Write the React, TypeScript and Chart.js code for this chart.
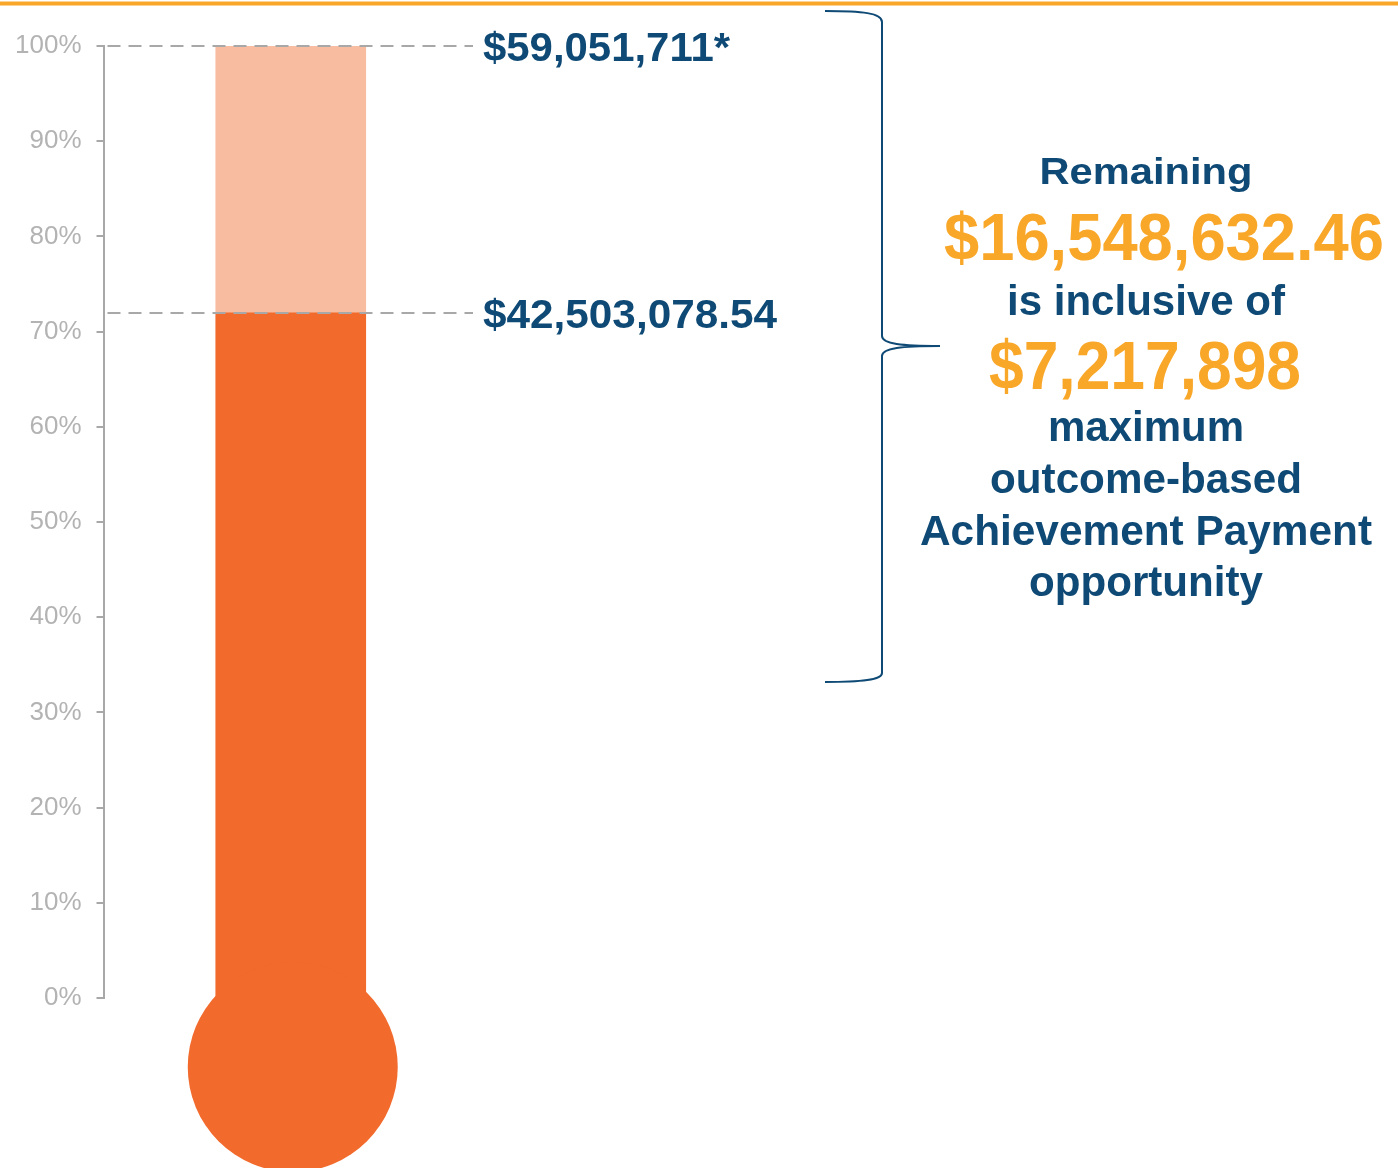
import React, { useEffect, useRef } from "react";
import { Chart, registerables } from "chart.js";

Chart.register(...registerables);

// ---- data ----
const categories = ["Funding"];
const achievedPct = [71.98]; // $42,503,078.54 of $59,051,711
const remainingPct = [28.02];
const yTickValues = [0, 10, 20, 30, 40, 50, 60, 70, 80, 90, 100];
const markerValues = [100, 71.98];
const markerLabels = ["$59,051,711*", "$42,503,078.54"];
const calloutLines = [
  "Remaining",
  "$16,548,632.46",
  "is inclusive of",
  "$7,217,898",
  "maximum",
  "outcome-based",
  "Achievement Payment",
  "opportunity",
];
const calloutIsAmount = [false, true, false, true, false, false, false, false];

// ---- styles ----
const W = 1398;
const H = 1168;
const FONT = "'Liberation Sans', Arial, Helvetica, sans-serif";
const BLUE = "#0E4A75";
const GOLD = "#F9A729";
const DARK_ORANGE = "#F26A2C";
const LIGHT_ORANGE = "#F8BCA1";
const AXIS_GRAY = "#A8A8A8";
const TICK_GRAY = "#B3B3B3";

// layout for callout lines: [centerX, baseline, fontSize, targetWidth]
const calloutLayout: [number, number, number, number][] = [
  [1146, 184, 36, 213],
  [1164, 260, 66, 440],
  [1146, 315, 42, 278],
  [1145, 389, 68, 312],
  [1146, 441, 42, 196],
  [1146, 493, 42, 312],
  [1146, 545, 42, 452],
  [1146, 596, 42, 234],
];
const markerLayout: [number, number, number][] = [
  // baseline, fontSize, targetWidth
  [61, 40, 247],
  [328, 40, 294],
];
const LABEL_X = 483;

function drawFitted(
  ctx: CanvasRenderingContext2D,
  text: string,
  x: number,
  baseline: number,
  size: number,
  color: string,
  targetW: number,
  align: "center" | "left"
) {
  ctx.save();
  ctx.font = `bold ${size}px ${FONT}`;
  ctx.fillStyle = color;
  ctx.textBaseline = "alphabetic";
  const w = ctx.measureText(text).width;
  const sx = targetW / w;
  ctx.translate(x, baseline);
  ctx.scale(sx, 1);
  ctx.textAlign = align;
  ctx.fillText(text, 0, 0);
  ctx.restore();
}

const decorPlugin = {
  id: "decor",
  beforeDraw(chart: any) {
    const ctx = chart.ctx as CanvasRenderingContext2D;
    ctx.save();
    ctx.fillStyle = GOLD;
    ctx.fillRect(0, 1.5, W, 4);
    ctx.restore();
  },
  afterDatasetsDraw(chart: any) {
    const ctx = chart.ctx as CanvasRenderingContext2D;
    const y = chart.scales.y;
    const area = chart.chartArea;
    const bar = chart.getDatasetMeta(0).data[0];

    // bulb
    ctx.save();
    ctx.fillStyle = DARK_ORANGE;
    ctx.beginPath();
    ctx.arc(bar.x + 2, area.bottom + 69, bar.width * 0.7, 0, Math.PI * 2);
    ctx.fill();
    ctx.restore();

    // dashed marker lines + labels
    markerValues.forEach((v, i) => {
      const py = Math.round(y.getPixelForValue(v));
      ctx.save();
      ctx.strokeStyle = AXIS_GRAY;
      ctx.lineWidth = 2;
      ctx.setLineDash([13, 8]);
      ctx.beginPath();
      ctx.moveTo(area.left + 3, py);
      ctx.lineTo(LABEL_X - 10, py);
      ctx.stroke();
      ctx.restore();
      const [bl, fs, tw] = markerLayout[i];
      drawFitted(ctx, markerLabels[i], LABEL_X, bl, fs, BLUE, tw, "left");
    });

    // brace
    ctx.save();
    ctx.strokeStyle = BLUE;
    ctx.lineWidth = 2;
    ctx.beginPath();
    ctx.moveTo(825, 11);
    ctx.bezierCurveTo(862, 11, 882, 13, 882, 22);
    ctx.lineTo(882, 336);
    ctx.bezierCurveTo(882, 344, 902, 346, 940, 346);
    ctx.moveTo(940, 346);
    ctx.bezierCurveTo(902, 346, 882, 348, 882, 356);
    ctx.lineTo(882, 673);
    ctx.bezierCurveTo(882, 680, 862, 682, 825, 682);
    ctx.stroke();
    ctx.restore();

    // callout text
    calloutLines.forEach((t, i) => {
      const [cx, bl, fs, tw] = calloutLayout[i];
      drawFitted(ctx, t, cx, bl, fs, calloutIsAmount[i] ? GOLD : BLUE, tw, "center");
    });
  },
};

export default function App() {
  const ref = useRef<HTMLCanvasElement | null>(null);
  useEffect(() => {
    if (!ref.current) return;
    const chart = new Chart(ref.current, {
      type: "bar",
      data: {
        labels: categories,
        datasets: [
          {
            label: "Achieved",
            data: achievedPct,
            backgroundColor: DARK_ORANGE,
            borderWidth: 0,
            barThickness: 150,
          },
          {
            label: "Remaining",
            data: remainingPct,
            backgroundColor: LIGHT_ORANGE,
            borderWidth: 0,
            barThickness: 150,
          },
        ],
      },
      options: {
        animation: false,
        responsive: false,
        devicePixelRatio: 1,
        layout: { padding: { left: 0, top: 46, bottom: 170, right: 921 } },
        plugins: {
          legend: { display: false },
          tooltip: { enabled: false },
        },
        scales: {
          x: { stacked: true, display: false },
          y: {
            stacked: true,
            min: 0,
            max: 100,
            afterBuildTicks: (scale: any) => {
              scale.ticks = yTickValues.map((v) => ({ value: v }));
            },
            ticks: {
              callback: (v: any) => `${v}%`,
              color: TICK_GRAY,
              font: { family: FONT, size: 26 },
              padding: 15,
            },
            grid: {
              drawOnChartArea: false,
              drawTicks: true,
              tickLength: 8,
              color: AXIS_GRAY,
              lineWidth: 2,
            },
            border: { display: true, color: AXIS_GRAY, width: 2 },
          },
        },
      },
      plugins: [decorPlugin],
    });
    return () => chart.destroy();
  }, []);
  return (
    <div style={{ position: "absolute", left: 0, top: 0, width: W, height: H, background: "#fff" }}>
      <canvas ref={ref} width={W} height={H} style={{ display: "block", width: W, height: H }} />
    </div>
  );
}
